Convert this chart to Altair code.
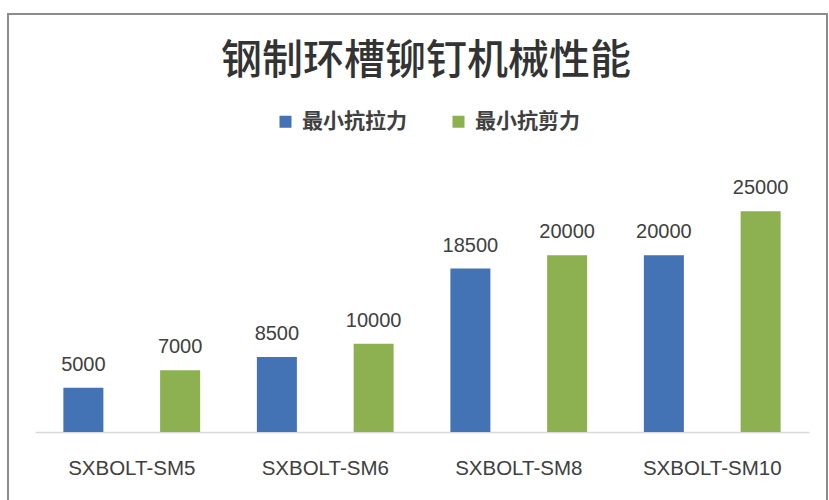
import altair as alt
import pandas as pd

categories = ["SXBOLT-SM5", "SXBOLT-SM6", "SXBOLT-SM8", "SXBOLT-SM10"]
series = ["最小抗拉力", "最小抗剪力"]
tensile = [5000, 8500, 18500, 20000]
shear = [7000, 10000, 20000, 25000]
colors = ["#4372b5", "#8db150"]

rows = []
for c, t, s in zip(categories, tensile, shear):
    rows.append({"cat": c, "series": series[0], "value": t})
    rows.append({"cat": c, "series": series[1], "value": s})
df = pd.DataFrame(rows)

x = alt.X(
    "cat:N",
    sort=categories,
    scale=alt.Scale(paddingInner=0, paddingOuter=0),
    axis=alt.Axis(
        title=None,
        labelAngle=0,
        ticks=False,
        domainColor="#d9d9d9",
        domainWidth=1.5,
        labelFont="Liberation Sans",
        labelFontSize=20.5,
        labelColor="#404040",
        labelPadding=26,
    ),
)
xo = alt.XOffset("series:N", sort=series, scale=alt.Scale(paddingInner=0, paddingOuter=0))
y = alt.Y("value:Q", scale=alt.Scale(domain=[0, 30000]), axis=None)
color = alt.Color(
    "series:N",
    sort=series,
    scale=alt.Scale(domain=series, range=colors),
    legend=alt.Legend(
        title=None,
        orient="none",
        legendX=240,
        legendY=-56,
        direction="horizontal",
        symbolType="square",
        symbolSize=144,
        symbolStrokeWidth=0,
        labelFont="Noto Sans CJK SC",
        labelFontSize=21,
        labelFontWeight="bold",
        labelColor="#404040",
        labelOffset=6,
        columnPadding=41,
        padding=0,
    ),
)

base = alt.Chart(df)
bars = base.mark_bar(width=40).encode(x=x, xOffset=xo, y=y, color=color)
labels = base.mark_text(
    baseline="bottom", dy=-13, fontSize=20, font="Liberation Sans", color="#404040"
).encode(x=x, xOffset=xo, y=y, text=alt.Text("value:Q", format="d"))

border = alt.Chart(alt.Data(values=[{"a": 1}])).mark_rect(
    filled=False, stroke="#8c8c8c", strokeWidth=2
).encode(x=alt.value(-27), x2=alt.value(792), y=alt.value(-153), y2=alt.value(345))

chart = (
    alt.layer(border, bars, labels)
    .properties(
        width=774,
        height=265,
        title=alt.Title(
            "钢制环槽铆钉机械性能",
            font="Noto Sans CJK SC",
            fontSize=41,
            fontWeight=500,
            color="#333333",
            anchor="middle",
            offset=0,
            dx=4,
            dy=70,
        ),
        autosize=alt.AutoSizeParams(type="none"),
        padding={"left": 35, "top": 167, "right": 20, "bottom": 68},
        background="white",
    )
    .configure_view(stroke=None)
)

chart.save("out.html", embed_options={"renderer": "svg", "actions": False})
